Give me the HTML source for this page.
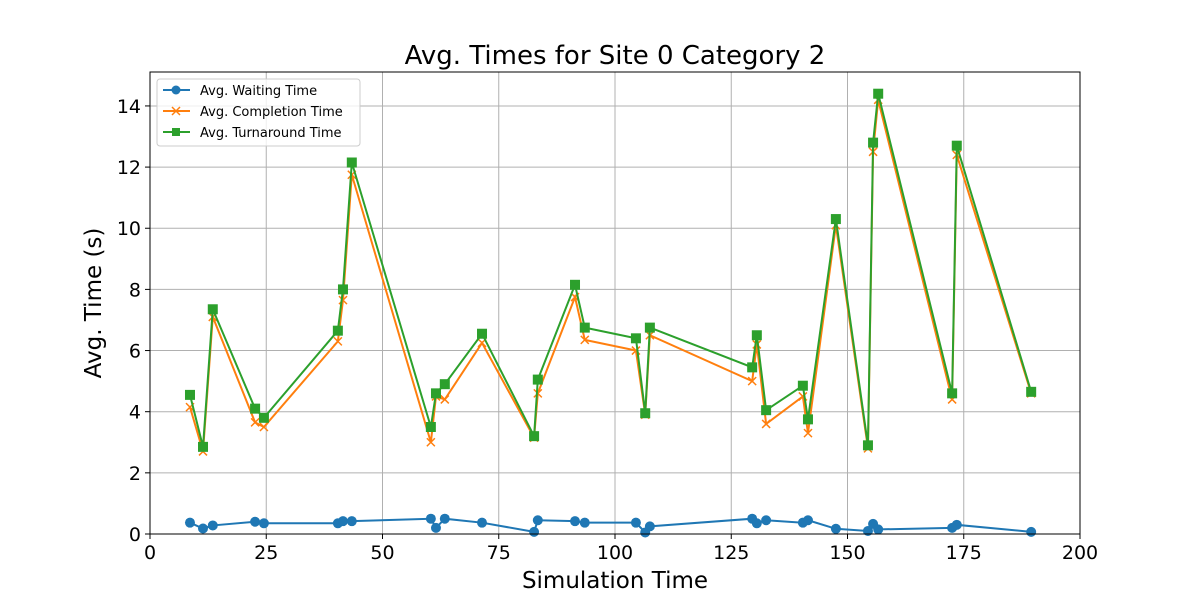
<!DOCTYPE html>
<html><head><meta charset="utf-8"><style>
body{margin:0;background:#fff;font-family:"Liberation Sans","DejaVu Sans",sans-serif}
</style></head><body>
<svg id="chart" width="1200" height="600" xmlns="http://www.w3.org/2000/svg" font-family="DejaVu Sans, Liberation Sans, sans-serif">
<rect width="1200" height="600" fill="#fff"/>
<text x="615" y="64" text-anchor="middle" font-size="26">Avg. Times for Site 0 Category 2</text>
<g id="grid"></g><g id="series"></g><g id="axes"></g>
<text x="615" y="588" text-anchor="middle" font-size="23">Simulation Time</text>
<text transform="translate(101,303) rotate(-90)" text-anchor="middle" font-size="23">Avg. Time (s)</text>
<g>
<rect x="157" y="79" width="203" height="67" fill="#fff" fill-opacity="0.8" stroke="#ccc" rx="3"/>
<line x1="163" y1="90" x2="190" y2="90" stroke="#1f77b4" stroke-width="2"/><circle cx="176" cy="90" r="4.5" fill="#1f77b4"/>
<text x="200" y="95" font-size="13">Avg. Waiting Time</text>
<line x1="163" y1="111" x2="190" y2="111" stroke="#ff7f0e" stroke-width="2"/><path d="M172,107l8,8M180,107l-8,8" stroke="#ff7f0e" stroke-width="1.5"/>
<text x="200" y="116" font-size="13">Avg. Completion Time</text>
<line x1="163" y1="132" x2="190" y2="132" stroke="#2ca02c" stroke-width="2"/><rect x="172" y="128" width="8" height="8" fill="#2ca02c"/>
<text x="200" y="137" font-size="13">Avg. Turnaround Time</text>
</g>
</svg>
<script>
const times=[8.6,11.4,13.5,22.6,24.5,40.4,41.5,43.4,60.4,61.5,63.4,71.4,82.6,83.4,91.4,93.5,104.5,106.5,107.5,129.5,130.5,132.5,140.4,141.5,147.5,154.4,155.5,156.6,172.5,173.5,189.5];
const waiting=[0.37,0.18,0.28,0.4,0.35,0.35,0.42,0.42,0.5,0.2,0.5,0.37,0.07,0.45,0.42,0.37,0.37,0.05,0.25,0.5,0.35,0.45,0.37,0.45,0.17,0.1,0.33,0.15,0.2,0.3,0.07];
const completion=[4.15,2.7,7.1,3.65,3.5,6.3,7.65,11.75,3.0,4.5,4.4,6.25,3.15,4.6,7.75,6.35,6.0,3.9,6.5,5.0,6.2,3.6,4.5,3.3,10.1,2.8,12.5,14.2,4.4,12.4,4.6];
const turnaround=[4.55,2.85,7.35,4.1,3.8,6.65,8.0,12.15,3.5,4.6,4.9,6.55,3.2,5.05,8.15,6.75,6.4,3.95,6.75,5.45,6.5,4.05,4.85,3.75,10.3,2.9,12.8,14.4,4.6,12.7,4.65];
const xTicks=[0,25,50,75,100,125,150,175,200];
const yTicks=[0,2,4,6,8,10,12,14];
const L=150,R=1080,T=72,B=534,XMAX=200,YMAX=15.11;
const sx=v=>L+v/XMAX*(R-L), sy=v=>B-v/YMAX*(B-T);
const NS="http://www.w3.org/2000/svg";
function mk(t,a,p){const e=document.createElementNS(NS,t);for(const k in a)e.setAttribute(k,a[k]);p.appendChild(e);return e;}
const grid=document.getElementById('grid'),axes=document.getElementById('axes'),ser=document.getElementById('series');
xTicks.forEach(v=>{const x=sx(v);
const g=mk('line',{x1:x,x2:x,y1:T,y2:B,stroke:'#b0b0b0','stroke-width':1},grid);

mk('line',{x1:x,x2:x,y1:B,y2:B+5,stroke:'#000'},axes);
const t=mk('text',{x:x,y:B+25,'text-anchor':'middle','font-size':19},axes);t.textContent=v;
});
yTicks.forEach(v=>{const y=sy(v);
const g=mk('line',{x1:L,x2:R,y1:y,y2:y,stroke:'#b0b0b0','stroke-width':1},grid);

mk('line',{x1:L-5,x2:L,y1:y,y2:y,stroke:'#000'},axes);
const t=mk('text',{x:L-9,y:y+7,'text-anchor':'end','font-size':19},axes);t.textContent=v;
});
const fr=mk('rect',{x:L,y:T,width:R-L,height:B-T,fill:'none',stroke:'#000','stroke-width':1},axes);

function draw(vals,color,marker,name){
const g=mk('g',{},ser);
mk('polyline',{points:vals.map((v,i)=>sx(times[i])+','+sy(v)).join(' '),fill:'none',stroke:color,'stroke-width':2},g);
vals.forEach((v,i)=>{const x=sx(times[i]),y=sy(v);let m;
if(marker==='o')m=mk('circle',{cx:x,cy:y,r:5,fill:color},g);
else if(marker==='x')m=mk('path',{d:`M${x-4},${y-4}l8,8M${x+4},${y-4}l-8,8`,stroke:color,'stroke-width':1.5},g);
else m=mk('rect',{x:x-5,y:y-5,width:10,height:10,fill:color},g);
});}
draw(waiting,'#1f77b4','o','waiting-series');
draw(completion,'#ff7f0e','x','completion-series');
draw(turnaround,'#2ca02c','s','turnaround-series');
</script>
</body></html>
